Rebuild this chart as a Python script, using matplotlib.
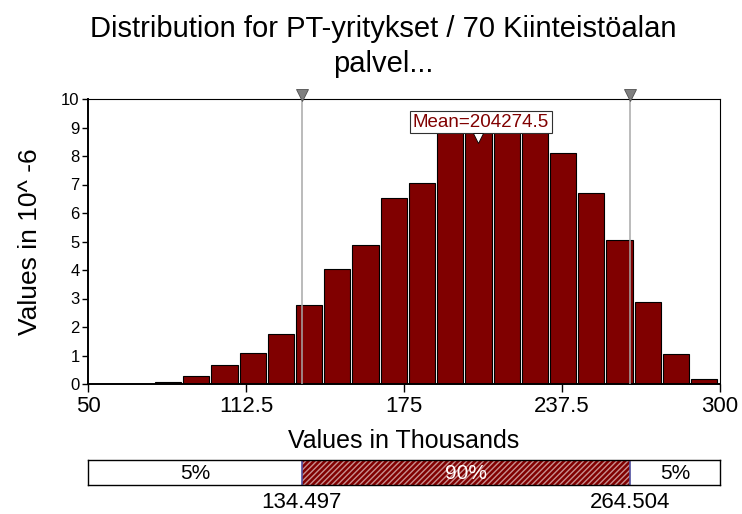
import numpy as np
import matplotlib.pyplot as plt
from matplotlib.transforms import blended_transform_factory

plt.rcParams['font.family'] = ['Liberation Sans', 'DejaVu Sans']

# histogramin tiedot (arvot luettu kuvasta)
data_min = 76.1
data_max = 299.3
heights = [0.08, 0.27, 0.67, 1.08, 1.74, 2.76, 4.02, 4.88, 6.53, 7.06,
           8.85, 9.15, 9.3, 9.05, 8.1, 6.71, 5.05, 2.87, 1.07, 0.17]
mean_val = 204274.5
p5 = 134.497
p95 = 264.504
x_ticks = [50, 112.5, 175, 237.5, 300]
x_ticklabels = ['50', '112.5', '175', '237.5', '300']
y_ticks = list(range(0, 11))
band_labels = ['5%', '90%', '5%']

edges = np.linspace(data_min, data_max, len(heights) + 1)
width = edges[1] - edges[0]
centers = (edges[:-1] + edges[1:]) / 2

fig = plt.figure(figsize=(7.42, 5.14), dpi=100)
ax = fig.add_axes([88/742, 1-384/514, 632/742, 285/514])

ax.bar(centers, heights, width=width*0.93, color='#800000',
       edgecolor='black', linewidth=0.8, zorder=2)
for v in [p5, p95]:
    ax.axvline(v, color='#a8a8a8', lw=1.1, zorder=3)
    tr = blended_transform_factory(ax.transData, ax.transAxes)
    ax.plot([v], [1.015], marker='v', ms=8, color='#808080', mec='#505050',
            mew=0.6, transform=tr, clip_on=False, zorder=5)

ax.set_xlim(50, 300)
ax.set_ylim(0, 10)
ax.set_xticks(x_ticks)
ax.set_xticklabels(x_ticklabels, fontsize=16)
ax.set_yticks(y_ticks)
ax.set_yticklabels([str(t) for t in y_ticks], fontsize=12)
ax.tick_params(axis='x', direction='out', length=6, width=1, pad=3)
ax.tick_params(axis='y', direction='out', length=4, width=1, pad=2)
for s in ['left', 'bottom']:
    ax.spines[s].set_linewidth(1.4)
for s in ['top', 'right']:
    ax.spines[s].set_linewidth(0.8)
ax.set_xlabel('Values in Thousands', fontsize=18, labelpad=8)
ax.set_ylabel('Values in 10^ -6', fontsize=19, labelpad=14)

# keskiarvon merkki
mean_k = mean_val / 1000
ax.text(205.5, 9.19, 'Mean=%.1f' % mean_val, fontsize=13.5, color='#800000',
        ha='center', va='center', zorder=6,
        bbox=dict(boxstyle='square,pad=0.15', fc='white', ec='#303030', lw=0.8))
ax.plot([mean_k], [8.62], marker='v', ms=7, color='white', mec='black',
        mew=0.6, zorder=7, clip_on=False)

fig.text(383/742, 1-15/514,
         'Distribution for PT-yritykset / 70 Kiinteistöalan\npalvel...',
         ha='center', va='top', fontsize=21, linespacing=1.3)

# alapalkki
bx = fig.add_axes([88/742, 1-485/514, 632/742, 25/514])
bx.set_xlim(50, 300)
bx.set_ylim(0, 1)
bx.axvspan(p5, p95, facecolor='#800000', edgecolor='#c89090', hatch='//////',
           linewidth=0)
for v in [p5, p95]:
    bx.axvline(v, color='#5050a0', lw=1.2)
bx.text((50 + p5) / 2, 0.45, band_labels[0], ha='center', va='center', fontsize=15)
bx.text((p5 + p95) / 2, 0.45, band_labels[1], ha='center', va='center', fontsize=15,
        color='white')
bx.text((p95 + 300) / 2, 0.45, band_labels[2], ha='center', va='center', fontsize=15)
bx.set_yticks([])
bx.set_xticks([p5, p95])
bx.set_xticklabels(['%.3f' % p5, '%.3f' % p95], fontsize=16)
bx.tick_params(axis='x', length=0, pad=5)
for s in bx.spines.values():
    s.set_linewidth(1)

fig.savefig('out.png', dpi=100)
